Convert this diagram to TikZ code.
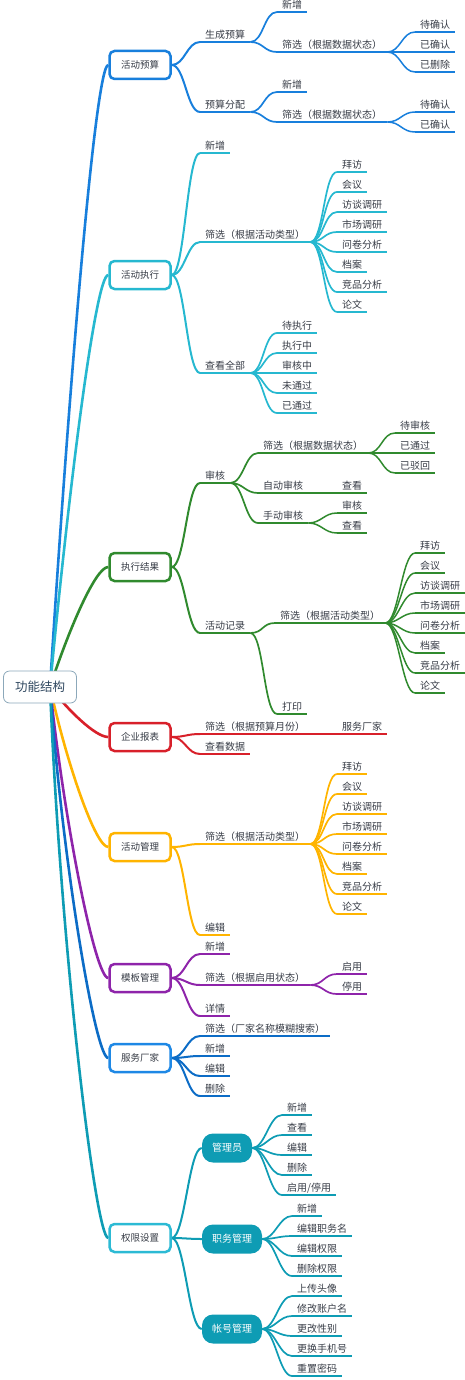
\documentclass[tikz,border=0pt]{standalone}
\usepackage{fontspec}
\setmainfont{Noto Sans CJK SC}
\usetikzlibrary{backgrounds}

\definecolor{txt}{RGB}{55,60,70}
\definecolor{rootc}{RGB}{140,168,186}
\definecolor{roottxt}{RGB}{48,72,96}
\definecolor{cA}{RGB}{24,127,220}
\definecolor{cB}{RGB}{38,184,208}
\definecolor{cC}{RGB}{48,138,46}
\definecolor{cD}{RGB}{216,32,42}
\definecolor{cE}{RGB}{255,180,0}
\definecolor{cF}{RGB}{142,36,170}
\definecolor{cG}{RGB}{12,108,198}
\definecolor{cGbox}{RGB}{30,136,229}
\definecolor{cH}{RGB}{14,156,180}
\definecolor{cHbox}{RGB}{44,186,212}
\colorlet{brc}{black}

\tikzset{
  pen/.style={/utils/exec={\colorlet{brc}{#1}}},
  root/.style={draw=rootc, line width=0.8pt, fill=white, rounded corners=6pt,
    minimum width=73pt, minimum height=32pt, text=roottxt,
    font=\fontsize{12.5}{14}\selectfont},
  mainbox/.style={draw=#1, line width=2.5pt, fill=white, rounded corners=5pt,
    minimum width=61pt, minimum height=28pt, inner sep=0pt, text=txt,
    font=\fontsize{9.5}{11}\selectfont},
  subbox/.style={fill=cH, rounded corners=11pt, minimum width=#1,
    minimum height=29pt, inner sep=0pt, text=white,
    font=\fontsize{10}{12}\selectfont},
  leaf/.style={anchor=south west, inner xsep=5pt, inner ysep=3pt, text depth=0pt,
    text=txt, font=\fontsize{10}{12}\selectfont,
    append after command={(\tikzlastnode.south west) edge[draw=brc, line width=#1]
      (\tikzlastnode.south east)}},
  leaf/.default=1.7pt,
  lk/.style={draw=brc, line width=#1,
    to path={.. controls +(13,0) and +(-13,0) .. (\tikztotarget)}},
  lk/.default=1.7pt,
  trunk/.style={draw=#1, line width=2.6pt},
}

\begin{document}
\begin{tikzpicture}[x=1pt,y=-1pt]
\useasboundingbox (0,0) rectangle (465,1380);

\node[root] (root) at (40,687) {功能结构};
\coordinate (hub) at (50,687);

% 活动预算
\begin{scope}[pen=cA]
\node[mainbox=cA] (a) at (140,65) {活动预算};
\node[leaf=2pt] (a1) at (200,42) {生成预算};
\node[leaf] (a11) at (277,12) {新增};
\node[leaf] (a12) at (277,52) {筛选（根据数据状态）};
\node[leaf=1.5pt] (a121) at (415,32) {待确认};
\node[leaf=1.5pt] (a122) at (415,52) {已确认};
\node[leaf=1.5pt] (a123) at (415,72) {已删除};
\node[leaf=2pt] (a2) at (200,112) {预算分配};
\node[leaf] (a21) at (277,92) {新增};
\node[leaf] (a22) at (277,122) {筛选（根据数据状态）};
\node[leaf=1.5pt] (a221) at (415,112) {待确认};
\node[leaf=1.5pt] (a222) at (415,132) {已确认};
\begin{scope}[on background layer]
\draw[trunk=cA] (hub) .. controls +(18,-287) and +(-13,0) .. (a.west);
\draw[lk=2pt] (a.east) to (a1.south west);
\draw[lk=2pt] (a.east) to (a2.south west);
\draw[lk] (a1.south east) to (a11.south west);
\draw[lk] (a1.south east) to (a12.south west);
\draw[lk=1.5pt] (a12.south east) to (a121.south west);
\draw[lk=1.5pt] (a12.south east) to (a122.south west);
\draw[lk=1.5pt] (a12.south east) to (a123.south west);
\draw[lk] (a2.south east) to (a21.south west);
\draw[lk] (a2.south east) to (a22.south west);
\draw[lk=1.5pt] (a22.south east) to (a221.south west);
\draw[lk=1.5pt] (a22.south east) to (a222.south west);
\end{scope}
\end{scope}

% 活动执行
\begin{scope}[pen=cB]
\node[mainbox=cB] (b) at (140,275) {活动执行};
\node[leaf=2pt] (b1) at (200,153) {新增};
\node[leaf=2pt] (b2) at (200,242) {筛选（根据活动类型）};
\node[leaf] (b21) at (337,172) {拜访};
\node[leaf] (b22) at (337,192) {会议};
\node[leaf] (b23) at (337,212) {访谈调研};
\node[leaf] (b24) at (337,232) {市场调研};
\node[leaf] (b25) at (337,252) {问卷分析};
\node[leaf] (b26) at (337,272) {档案};
\node[leaf] (b27) at (337,292) {竞品分析};
\node[leaf] (b28) at (337,312) {论文};
\node[leaf=2pt] (b3) at (200,373) {查看全部};
\node[leaf] (b31) at (277,333) {待执行};
\node[leaf] (b32) at (277,353) {执行中};
\node[leaf] (b33) at (277,373) {审核中};
\node[leaf] (b34) at (277,393) {未通过};
\node[leaf] (b35) at (277,413) {已通过};
\begin{scope}[on background layer]
\draw[trunk=cB] (hub) .. controls +(18,-190) and +(-13,0) .. (b.west);
\draw[lk=2pt] (b.east) to (b1.south west);
\draw[lk=2pt] (b.east) to (b2.south west);
\draw[lk=2pt] (b.east) to (b3.south west);
\draw[lk] (b2.south east) to (b21.south west);
\draw[lk] (b2.south east) to (b22.south west);
\draw[lk] (b2.south east) to (b23.south west);
\draw[lk] (b2.south east) to (b24.south west);
\draw[lk] (b2.south east) to (b25.south west);
\draw[lk] (b2.south east) to (b26.south west);
\draw[lk] (b2.south east) to (b27.south west);
\draw[lk] (b2.south east) to (b28.south west);
\draw[lk] (b3.south east) to (b31.south west);
\draw[lk] (b3.south east) to (b32.south west);
\draw[lk] (b3.south east) to (b33.south west);
\draw[lk] (b3.south east) to (b34.south west);
\draw[lk] (b3.south east) to (b35.south west);
\end{scope}
\end{scope}

% 执行结果
\begin{scope}[pen=cC]
\node[mainbox=cC] (c) at (140,567) {执行结果};
\node[leaf=2pt] (c1) at (200,483) {审核};
\node[leaf] (c11) at (258,453) {筛选（根据数据状态）};
\node[leaf=1.5pt] (c111) at (395,433) {待审核};
\node[leaf=1.5pt] (c112) at (395,453) {已通过};
\node[leaf=1.5pt] (c113) at (395,473) {已驳回};
\node[leaf] (c12) at (258,493) {自动审核};
\node[leaf=1.5pt] (c121) at (337,493) {查看};
\node[leaf] (c13) at (258,523) {手动审核};
\node[leaf=1.5pt] (c131) at (337,513) {审核};
\node[leaf=1.5pt] (c132) at (337,533) {查看};
\node[leaf=2pt] (c2) at (200,633) {活动记录};
\node[leaf] (c21) at (275,623) {筛选（根据活动类型）};
\node[leaf=1.5pt] (c211) at (415,553) {拜访};
\node[leaf=1.5pt] (c212) at (415,573) {会议};
\node[leaf=1.5pt] (c213) at (415,593) {访谈调研};
\node[leaf=1.5pt] (c214) at (415,613) {市场调研};
\node[leaf=1.5pt] (c215) at (415,633) {问卷分析};
\node[leaf=1.5pt] (c216) at (415,653) {档案};
\node[leaf=1.5pt] (c217) at (415,673) {竞品分析};
\node[leaf=1.5pt] (c218) at (415,693) {论文};
\node[leaf] (c22) at (277,714) {打印};
\begin{scope}[on background layer]
\draw[trunk=cC] (hub) .. controls +(18,-55) and +(-13,0) .. (c.west);
\draw[lk=2pt] (c.east) to (c1.south west);
\draw[lk=2pt] (c.east) to (c2.south west);
\draw[lk] (c1.south east) to (c11.south west);
\draw[lk] (c1.south east) to (c12.south west);
\draw[lk] (c1.south east) to (c13.south west);
\draw[lk=1.5pt] (c11.south east) to (c111.south west);
\draw[lk=1.5pt] (c11.south east) to (c112.south west);
\draw[lk=1.5pt] (c11.south east) to (c113.south west);
\draw[lk=1.5pt] (c12.south east) to (c121.south west);
\draw[lk=1.5pt] (c13.south east) to (c131.south west);
\draw[lk=1.5pt] (c13.south east) to (c132.south west);
\draw[lk] (c2.south east) to (c21.south west);
\draw[lk] (c2.south east) to (c22.south west);
\draw[lk=1.5pt] (c21.south east) to (c211.south west);
\draw[lk=1.5pt] (c21.south east) to (c212.south west);
\draw[lk=1.5pt] (c21.south east) to (c213.south west);
\draw[lk=1.5pt] (c21.south east) to (c214.south west);
\draw[lk=1.5pt] (c21.south east) to (c215.south west);
\draw[lk=1.5pt] (c21.south east) to (c216.south west);
\draw[lk=1.5pt] (c21.south east) to (c217.south west);
\draw[lk=1.5pt] (c21.south east) to (c218.south west);
\end{scope}
\end{scope}

% 企业报表
\begin{scope}[pen=cD]
\node[mainbox=cD] (d) at (140,737) {企业报表};
\node[leaf=2pt] (d1) at (200,734) {筛选（根据预算月份）};
\node[leaf] (d11) at (337,734) {服务厂家};
\node[leaf=2pt] (d2) at (200,754) {查看数据};
\begin{scope}[on background layer]
\draw[trunk=cD] (hub) .. controls +(18,23) and +(-13,0) .. (d.west);
\draw[lk=2pt] (d.east) to (d1.south west);
\draw[lk=2pt] (d.east) to (d2.south west);
\draw[lk] (d1.south east) to (d11.south west);
\end{scope}
\end{scope}

% 活动管理
\begin{scope}[pen=cE]
\node[mainbox=cE] (e) at (140,847) {活动管理};
\node[leaf=2pt] (e1) at (200,844) {筛选（根据活动类型）};
\node[leaf] (e11) at (337,774) {拜访};
\node[leaf] (e12) at (337,794) {会议};
\node[leaf] (e13) at (337,814) {访谈调研};
\node[leaf] (e14) at (337,834) {市场调研};
\node[leaf] (e15) at (337,854) {问卷分析};
\node[leaf] (e16) at (337,874) {档案};
\node[leaf] (e17) at (337,894) {竞品分析};
\node[leaf] (e18) at (337,914) {论文};
\node[leaf=2pt] (e2) at (200,935) {编辑};
\begin{scope}[on background layer]
\draw[trunk=cE] (hub) .. controls +(16,74) and +(-13,0) .. (e.west);
\draw[lk=2pt] (e.east) to (e1.south west);
\draw[lk=2pt] (e.east) to (e2.south west);
\draw[lk] (e1.south east) to (e11.south west);
\draw[lk] (e1.south east) to (e12.south west);
\draw[lk] (e1.south east) to (e13.south west);
\draw[lk] (e1.south east) to (e14.south west);
\draw[lk] (e1.south east) to (e15.south west);
\draw[lk] (e1.south east) to (e16.south west);
\draw[lk] (e1.south east) to (e17.south west);
\draw[lk] (e1.south east) to (e18.south west);
\end{scope}
\end{scope}

% 模板管理
\begin{scope}[pen=cF]
\node[mainbox=cF] (f) at (140,978) {模板管理};
\node[leaf=2pt] (f1) at (200,954) {新增};
\node[leaf=2pt] (f2) at (200,985) {筛选（根据启用状态）};
\node[leaf] (f21) at (337,974) {启用};
\node[leaf] (f22) at (337,994) {停用};
\node[leaf=2pt] (f3) at (200,1016) {详情};
\begin{scope}[on background layer]
\draw[trunk=cF] (hub) .. controls +(14,134) and +(-13,0) .. (f.west);
\draw[lk=2pt] (f.east) to (f1.south west);
\draw[lk=2pt] (f.east) to (f2.south west);
\draw[lk=2pt] (f.east) to (f3.south west);
\draw[lk] (f2.south east) to (f21.south west);
\draw[lk] (f2.south east) to (f22.south west);
\end{scope}
\end{scope}

% 服务厂家
\begin{scope}[pen=cG]
\node[mainbox=cGbox] (g) at (140,1058) {服务厂家};
\node[leaf=2pt] (g1) at (200,1036) {筛选（厂家名称模糊搜索）};
\node[leaf=2pt] (g2) at (200,1056) {新增};
\node[leaf=2pt] (g3) at (200,1076) {编辑};
\node[leaf=2pt] (g4) at (200,1096) {删除};
\begin{scope}[on background layer]
\draw[trunk=cG] (hub) .. controls +(12,171) and +(-13,0) .. (g.west);
\draw[lk=2pt] (g.east) to (g1.south west);
\draw[lk=2pt] (g.east) to (g2.south west);
\draw[lk=2pt] (g.east) to (g3.south west);
\draw[lk=2pt] (g.east) to (g4.south west);
\end{scope}
\end{scope}

% 权限设置
\begin{scope}[pen=cH]
\node[mainbox=cHbox] (h) at (140,1238) {权限设置};
\node[subbox=50pt] (h1) at (227,1148) {管理员};
\node[leaf] (h11) at (282,1115) {新增};
\node[leaf] (h12) at (282,1135) {查看};
\node[leaf] (h13) at (282,1155) {编辑};
\node[leaf] (h14) at (282,1175) {删除};
\node[leaf] (h15) at (282,1195) {启用/停用};
\node[subbox=60pt] (h2) at (232,1239) {职务管理};
\node[leaf] (h21) at (292,1216) {新增};
\node[leaf] (h22) at (292,1236) {编辑职务名};
\node[leaf] (h23) at (292,1256) {编辑权限};
\node[leaf] (h24) at (292,1276) {删除权限};
\node[subbox=60pt] (h3) at (232,1329) {帐号管理};
\node[leaf] (h31) at (292,1296) {上传头像};
\node[leaf] (h32) at (292,1316) {修改账户名};
\node[leaf] (h33) at (292,1336) {更改性别};
\node[leaf] (h34) at (292,1356) {更换手机号};
\node[leaf] (h35) at (292,1376) {重置密码};
\begin{scope}[on background layer]
\draw[trunk=cH] (hub) .. controls +(10,253) and +(-13,0) .. (h.west);
\draw[lk=2pt] (h.east) to (h1.west);
\draw[lk=2pt] (h.east) to (h2.west);
\draw[lk=2pt] (h.east) to (h3.west);
\draw[lk] (h1.east) to (h11.south west);
\draw[lk] (h1.east) to (h12.south west);
\draw[lk] (h1.east) to (h13.south west);
\draw[lk] (h1.east) to (h14.south west);
\draw[lk] (h1.east) to (h15.south west);
\draw[lk] (h2.east) to (h21.south west);
\draw[lk] (h2.east) to (h22.south west);
\draw[lk] (h2.east) to (h23.south west);
\draw[lk] (h2.east) to (h24.south west);
\draw[lk] (h3.east) to (h31.south west);
\draw[lk] (h3.east) to (h32.south west);
\draw[lk] (h3.east) to (h33.south west);
\draw[lk] (h3.east) to (h34.south west);
\draw[lk] (h3.east) to (h35.south west);
\end{scope}
\end{scope}
\end{tikzpicture}
\end{document}
